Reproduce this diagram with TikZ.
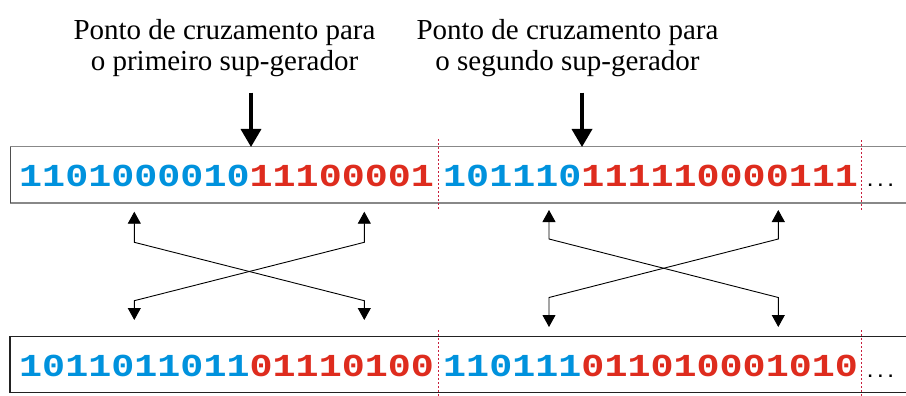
\documentclass[tikz,border=0pt]{standalone}
\usepackage{fontspec}
\setmainfont{Liberation Serif}
\newfontfamily\digfont{Liberation Mono}[FakeStretch=1.2]
\newfontfamily\dotfont{Liberation Mono}
\usetikzlibrary{arrows.meta}
\definecolor{cblue}{RGB}{0,146,221}
\definecolor{cred}{RGB}{222,44,30}
\definecolor{csep}{RGB}{200,30,60}
\definecolor{cgray}{RGB}{136,136,136}
\definecolor{cdark}{RGB}{34,34,34}
\begin{document}
\begin{tikzpicture}[x=1pt,y=-1pt,
  lbl/.style={font=\fontsize{29}{31.5}\selectfont, align=center, inner sep=0pt},
  bits/.style={font=\digfont\bfseries\fontsize{32}{32}\selectfont, anchor=base west, inner sep=0pt},
  dotsnode/.style={font=\dotfont\bfseries\fontsize{17}{17}\selectfont, anchor=base west, inner sep=0pt},
  bigarrow/.style={line width=3.5pt, -{Triangle[width=20pt,length=18pt]}},
  xarrow/.style={line width=0.9pt, {Triangle[width=13pt,length=12pt]}-{Triangle[width=13pt,length=12pt]}},
  sep/.style={csep, line width=1pt, dash pattern=on 2pt off 2pt},
  topline/.style={cgray, line width=1.5pt},
  botline/.style={cdark, line width=1.2pt}]
\useasboundingbox (0,0) rectangle (906,396);
\fill[white] (0,0) rectangle (906,396);

% labels
\node[lbl] (l1) at (224.5,48.3) {Ponto de cruzamento para\\o primeiro sup-gerador};
\node[lbl] (l2) at (567.5,48.3) {Ponto de cruzamento para\\o segundo sup-gerador};

% boxes
\draw[topline] (906,146.7) -- (10,146.7);
\draw[topline] (10,203) -- (906,203);
\draw[cdark!80, line width=1pt] (10,146.7) -- (10,203);
\draw[botline] (906,336.7) -- (10,336.7) -- (10,392.7) -- (906,392.7);

% separators
\draw[sep] (438.3,139) -- (438.3,208.5);
\draw[sep] (861.5,140) -- (861.5,211);
\draw[sep] (438.3,330) -- (438.3,396);
\draw[sep] (861.5,330) -- (861.5,396);

% bit strings
\node[bits] (t1) at (19,186.7) {{\color{cblue}1101000010}{\color{cred}11100001}};
\node[bits] (t2) at (443,186.7) {{\color{cblue}101110}{\color{cred}111110000111}};
\node[bits] (b1) at (19,376.7) {{\color{cblue}1011011011}{\color{cred}01110100}};
\node[bits] (b2) at (443,376.7) {{\color{cblue}110111}{\color{cred}011010001010}};
\node[dotsnode] (td) at (865,186) {...};
\node[dotsnode] (bd) at (865,377) {...};

% big arrows
\coordinate (a1s) at (251,92.7);
\coordinate (a1e) at (251,147);
\coordinate (a2s) at (582,92.7);
\coordinate (a2e) at (582,147);
\draw[bigarrow] (a1s) -- (a1e);
\draw[bigarrow] (a2s) -- (a2e);

% crossing arrows, left group
\coordinate (p1) at (134.3,211.7);
\coordinate (p2) at (134.3,242.3);
\coordinate (p3) at (364.3,300.7);
\coordinate (p4) at (364.3,320);
\coordinate (q1) at (364.3,211.7);
\coordinate (q2) at (364.3,242.3);
\coordinate (q3) at (134.3,300.7);
\coordinate (q4) at (134.3,320);
\draw[xarrow] (p1) -- (p2) -- (p3) -- (p4);
\draw[xarrow] (q1) -- (q2) -- (q3) -- (q4);

% crossing arrows, right group
\coordinate (r1) at (549,210);
\coordinate (r2) at (549,239);
\coordinate (r3) at (778.3,297.5);
\coordinate (r4) at (778.3,327);
\coordinate (s1) at (778.3,210);
\coordinate (s2) at (778.3,239);
\coordinate (s3) at (549,297.5);
\coordinate (s4) at (549,327);
\draw[xarrow] (r1) -- (r2) -- (r3) -- (r4);
\draw[xarrow] (s1) -- (s2) -- (s3) -- (s4);
\end{tikzpicture}
\end{document}
